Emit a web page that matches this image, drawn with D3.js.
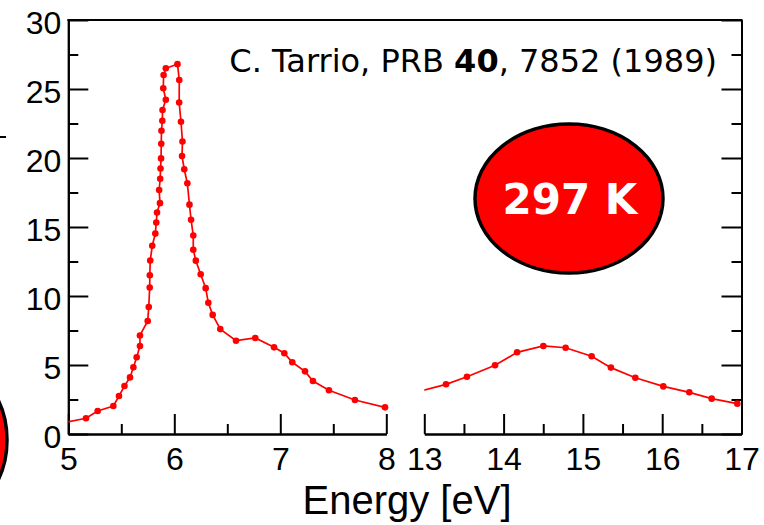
<!DOCTYPE html>
<html>
<head>
<meta charset="utf-8">
<script src="https://cdn.jsdelivr.net/npm/d3@7"></script>
<style>
  html, body { margin: 0; padding: 0; background: #fff; }
  svg { display: block; }
</style>
</head>
<body>
<svg id="chart" width="764" height="525"></svg>
<script>
// ---- data ----
const leftEnergy = [4.90, 5.167, 5.277, 5.425, 5.478, 5.530, 5.582, 5.614, 5.645, 5.676, 5.676,
  5.749, 5.759, 5.768, 5.769, 5.773, 5.792, 5.821, 5.830, 5.837, 5.865,
  5.857, 5.867, 5.870, 5.875, 5.877, 5.879, 5.887, 5.889, 5.920, 5.896, 5.899, 5.920,
  6.030,
  6.047, 6.046, 6.063, 6.077, 6.073, 6.094, 6.123, 6.143, 6.158, 6.179, 6.179, 6.203,
  6.249, 6.296, 6.321, 6.362, 6.434, 6.582, 6.764, 6.941, 7.038, 7.113, 7.233, 7.308,
  7.459, 7.704, 7.988];
const leftValue = [0.72, 1.14, 1.67, 2.03, 2.75, 3.48, 4.10, 4.83, 5.56, 6.38, 7.14,
  8.19, 9.20, 10.62, 11.50, 12.57, 13.64, 14.52, 15.32, 16.05, 16.73,
  17.68, 18.50, 19.24, 19.97, 21.03, 21.97, 22.70, 23.48, 24.22, 25.05, 26.01, 26.50,
  26.80,
  25.65, 24.02, 22.63, 21.20, 20.14, 19.18, 18.17, 16.62, 15.53, 14.38, 13.35, 12.56,
  11.58, 10.57, 9.51, 8.63, 7.60, 6.76, 6.96, 6.28, 5.85, 5.20, 4.54, 3.84,
  3.17, 2.46, 1.93];

const rightEnergy = [12.75, 13.274, 13.538, 13.892, 14.170, 14.501, 14.782, 15.110, 15.353,
  15.661, 16.014, 16.342, 16.624, 16.947];
const rightValue = [2.82, 3.60, 4.15, 4.98, 5.92, 6.38, 6.25, 5.63, 4.81,
  4.08, 3.45, 3.02, 2.56, 2.20];

const leftTicks = [5, 6, 7, 8];
const leftMinor = [5.5, 6.5, 7.5];
const rightTicks = [13, 14, 15, 16, 17];
const rightMinor = [13.5, 14.5, 15.5, 16.5];
const yTicks = [0, 5, 10, 15, 20, 25, 30];
const yMinor = [2.5, 7.5, 12.5, 17.5, 22.5, 27.5];

const xAxisTitle = "Energy [eV]";
const tempLabel = "297 K";

// ---- layout ----
const svg = d3.select("#chart");
const yTop = 20, yBot = 434;
const xL = d3.scaleLinear().domain([5, 8]).range([68.3, 386.3]);
const xR = d3.scaleLinear().domain([13, 17]).range([424.3, 741.5]);
const y = d3.scaleLinear().domain([0, 30]).range([yBot, yTop]);

const AX = "#000";
const FONT = "'Liberation Sans', Arial, Helvetica, sans-serif";

// clip paths
const defs = svg.append("defs");
defs.append("clipPath").attr("id", "clipL").append("rect")
  .attr("x", xL.range()[0]).attr("y", 0).attr("width", xL.range()[1] - xL.range()[0] + 10).attr("height", yBot);
defs.append("clipPath").attr("id", "clipR").append("rect")
  .attr("x", xR.range()[0]).attr("y", 0).attr("width", xR.range()[1] - xR.range()[0] + 10).attr("height", yBot);

function styleAxis(g) {
  g.selectAll("path.domain").attr("stroke", AX).attr("stroke-width", 2);
  g.selectAll(".tick line").attr("stroke", AX).attr("stroke-width", 2);
  g.selectAll("text").attr("fill", "#000").style("font-family", FONT).style("font-size", "32px");
}

// bottom axes
function bottomAxis(scale, major, minor) {
  const gMin = svg.append("g").attr("transform", `translate(0,${yBot})`)
    .call(d3.axisBottom(scale).tickValues(minor).tickSize(-10).tickSizeOuter(0).tickFormat(""));
  styleAxis(gMin);
  const g = svg.append("g").attr("transform", `translate(0,${yBot})`)
    .call(d3.axisBottom(scale).tickValues(major).tickSize(-20).tickSizeOuter(0).tickPadding(13).tickFormat(d3.format("d")));
  styleAxis(g);
  g.selectAll("text").attr("dy", "0.71em");
}
bottomAxis(xL, leftTicks, leftMinor);
bottomAxis(xR, rightTicks, rightMinor);

// left y axis
{
  const gMin = svg.append("g").attr("transform", `translate(${xL.range()[0]},0)`)
    .call(d3.axisLeft(y).tickValues(yMinor).tickSize(-10).tickSizeOuter(0).tickFormat(""));
  styleAxis(gMin);
  const g = svg.append("g").attr("transform", `translate(${xL.range()[0]},0)`)
    .call(d3.axisLeft(y).tickValues(yTicks).tickSize(-20).tickSizeOuter(0).tickPadding(7).tickFormat(d3.format("d")));
  styleAxis(g);
  g.selectAll("text").attr("dy", "0.42em");
}
// right y axis (no labels)
{
  const gMin = svg.append("g").attr("transform", `translate(${xR.range()[1]},0)`)
    .call(d3.axisRight(y).tickValues(yMinor).tickSize(-10).tickSizeOuter(0).tickFormat(""));
  styleAxis(gMin);
  const g = svg.append("g").attr("transform", `translate(${xR.range()[1]},0)`)
    .call(d3.axisRight(y).tickValues(yTicks).tickSize(-20).tickSizeOuter(0).tickFormat(""));
  styleAxis(g);
}
// top frame line
svg.append("line")
  .attr("x1", xL.range()[0] - 1).attr("x2", xR.range()[1] + 1)
  .attr("y1", y(30)).attr("y2", y(30))
  .attr("stroke", AX).attr("stroke-width", 2);

// x axis title
svg.append("text")
  .attr("x", 407).attr("y", 514)
  .attr("text-anchor", "middle")
  .style("font-family", FONT).style("font-size", "40px")
  .text(xAxisTitle);

// data series
function drawSeries(xs, ys, xScale, clipId) {
  const pts = xs.map((e, i) => [e, ys[i]]);
  const g = svg.append("g").attr("clip-path", `url(#${clipId})`);
  const line = d3.line().x(d => xScale(d[0])).y(d => y(d[1]));
  g.append("path").datum(pts)
    .attr("d", line).attr("fill", "none")
    .attr("stroke", "#ff0000").attr("stroke-width", 1.7);
  g.selectAll("circle").data(pts).join("circle")
    .attr("cx", d => xScale(d[0])).attr("cy", d => y(d[1]))
    .attr("r", 3.3).attr("fill", "#ff0000");
}
drawSeries(leftEnergy, leftValue, xL, "clipL");
drawSeries(rightEnergy, rightValue, xR, "clipR");

// citation
const cite = svg.append("text")
  .attr("x", 717).attr("y", 72)
  .attr("text-anchor", "end")
  .style("font-family", "'DejaVu Sans', sans-serif").style("font-size", "32px")
  .attr("fill", "#000");
cite.append("tspan").text("C. Tarrio, PRB ");
cite.append("tspan").style("font-weight", "bold").text("40");
cite.append("tspan").text(", 7852 (1989)");

// temperature badge
svg.append("ellipse")
  .attr("cx", 569).attr("cy", 198.5).attr("rx", 94).attr("ry", 74.5)
  .attr("fill", "#ff0000").attr("stroke", "#000").attr("stroke-width", 3.5);
svg.append("text")
  .attr("x", 570).attr("y", 214)
  .attr("text-anchor", "middle")
  .style("font-family", "'DejaVu Sans', sans-serif").style("font-size", "42px").style("font-weight", "bold")
  .attr("fill", "#fff")
  .text(tempLabel);

// partially visible badge at the bottom-left edge
svg.append("ellipse")
  .attr("cx", -53).attr("cy", 440).attr("rx", 60).attr("ry", 76)
  .attr("fill", "#ff0000").attr("stroke", "#000").attr("stroke-width", 3.5);

// small stray tick at left edge
svg.append("line")
  .attr("x1", 0).attr("x2", 6).attr("y1", 137).attr("y2", 137)
  .attr("stroke", AX).attr("stroke-width", 2);
</script>
</body>
</html>
